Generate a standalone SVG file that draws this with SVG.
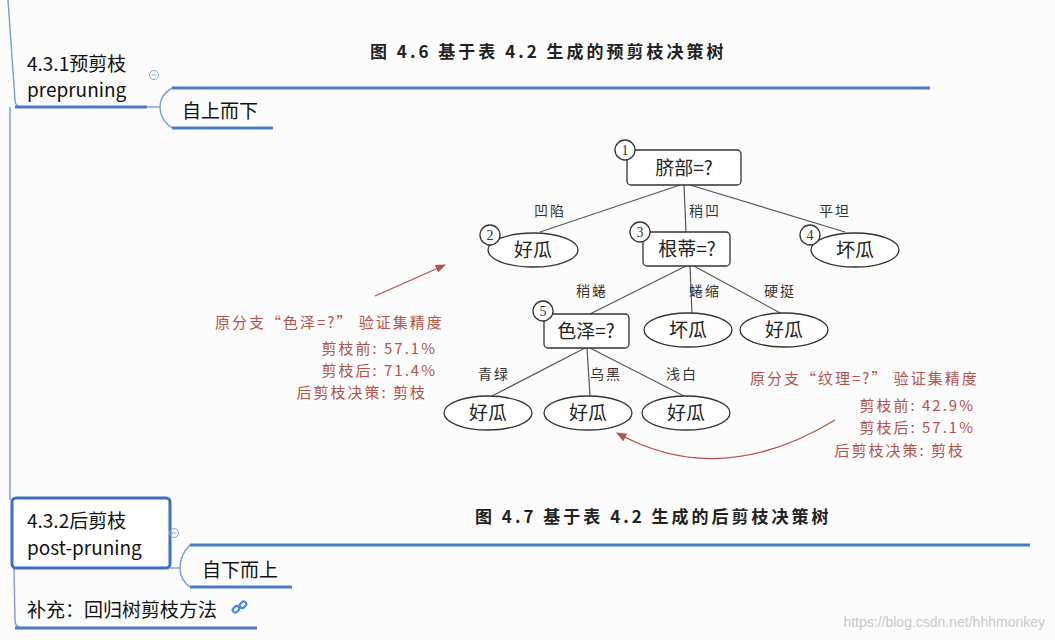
<svg xmlns="http://www.w3.org/2000/svg" width="1055" height="640" viewBox="0 0 1055 640">
<defs>
<style>
.mm{font-family:"Noto Sans CJK SC","Liberation Sans",sans-serif;font-size:19px;fill:#111}
.bl{stroke:#4a7cc4;stroke-width:3;fill:none}
.tl{stroke:#7ea0d8;stroke-width:1.5;fill:none}
.t{font-family:"Noto Sans CJK SC",serif;font-size:19px;fill:#222;text-anchor:middle}
.lb{font-family:"Noto Sans CJK SC",serif;font-size:14px;fill:#333;text-anchor:middle;letter-spacing:2px}
.nm{font-family:"Liberation Serif",serif;font-size:14px;fill:#333;text-anchor:middle}
.nd{fill:#fff;stroke:#333;stroke-width:1.3}
.e{stroke:#555;stroke-width:1.2;fill:none}
.r{font-family:"Noto Sans CJK SC",serif;font-size:15px;fill:#b5524a;letter-spacing:2px}
.ti{font-family:"Noto Sans CJK SC",serif;font-size:17px;font-weight:bold;fill:#222;letter-spacing:3px}
</style>
<marker id="ar" viewBox="0 0 10 10" refX="9" refY="5" markerWidth="8" markerHeight="8" orient="auto"><path d="M0,1 L10,5 L0,9 z" fill="#b5524a"/></marker>
</defs>
<rect width="1055" height="640" fill="#fcfcfc"/>
<g id="mindmap">
<path class="tl" d="M8,0 L15,100 Q15,107 22,107"/>
<path class="tl" d="M10,107 L10,500"/>
<path class="tl" d="M14,568 L15,620 Q15,628 22,628"/>
<path class="bl" d="M15,107 H147"/>
<path class="tl" d="M147,107 H160"/>
<path class="bl" d="M172,88 H930 M172,128 H273"/>
<path class="tl" d="M172,88 Q160,95 160,107 Q160,120 172,128"/>
<circle cx="154" cy="75" r="4.5" fill="none" stroke="#8aa6d8"/><path d="M151.5,75 H156.5" stroke="#8aa6d8"/>
<text class="mm" x="27" y="71">4.3.1预剪枝</text>
<text class="mm" x="27" y="97">prepruning</text>
<text class="mm" x="182" y="118">自上而下</text>
<rect x="12" y="498" width="158" height="70" rx="4" fill="#fff" stroke="#3e6fc0" stroke-width="3"/>
<text class="mm" x="27" y="528">4.3.2后剪枝</text>
<text class="mm" x="27" y="555">post-pruning</text>
<circle cx="174" cy="533" r="4.5" fill="none" stroke="#8aa6d8"/><path d="M171.5,533 H176.5" stroke="#8aa6d8"/>
<path class="tl" d="M170,568 H180 Q180,555 190,545 M180,568 Q180,580 190,587"/>
<path class="bl" d="M190,545 H1030 M190,587 H292"/>
<text class="mm" x="202" y="577">自下而上</text>
<text class="mm" x="27" y="617">补充：回归树剪枝方法</text>
<path class="bl" d="M15,628 H257"/>
<g stroke="#4a8ae0" stroke-width="2.2" fill="none"><rect x="233" y="607" width="7" height="5" rx="2.5" transform="rotate(-45 236 610)"/><rect x="239" y="602" width="7" height="5" rx="2.5" transform="rotate(-45 243 604)"/></g>
</g>
<text class="ti" x="370" y="58">图 4.6   基于表 4.2 生成的预剪枝决策树</text>
<text class="ti" x="475" y="523">图 4.7   基于表 4.2 生成的后剪枝决策树</text>
<g id="connectors">
<path class="e" d="M680,185 L540,232 M684,185 L686,232 M690,185 L845,232"/>
<path class="e" d="M686,266 L590,314 M690,266 L692,314 M694,266 L782,314"/>
<path class="e" d="M585,348 L492,396 M587,348 L590,396 M590,348 L684,396"/>
<path d="M375,296 L445,265" stroke="#b5524a" stroke-width="1.3" fill="none" marker-end="url(#ar)"/>
<path d="M835,420 Q720,490 617,433" stroke="#b5524a" stroke-width="1.3" fill="none" marker-end="url(#ar)"/>
</g>
<g id="labels">
<text class="lb" x="550" y="216">凹陷</text><text class="lb" x="705" y="216">稍凹</text><text class="lb" x="835" y="216">平坦</text>
<text class="lb" x="592" y="296">稍蜷</text><text class="lb" x="705" y="296">蜷缩</text><text class="lb" x="780" y="296">硬挺</text>
<text class="lb" x="494" y="379">青绿</text><text class="lb" x="606" y="379">乌黑</text><text class="lb" x="682" y="379">浅白</text>
</g>
<g id="n1"><rect class="nd" x="627" y="150" width="114" height="35" rx="4"/><text class="t" x="684" y="175">脐部=?</text><circle class="nd" cx="625" cy="150" r="10"/><text class="nm" x="625" y="155">1</text></g>
<g id="n2"><ellipse class="nd" cx="533" cy="250" rx="45" ry="17"/><text class="t" x="533" y="257">好瓜</text><circle class="nd" cx="490" cy="235" r="10"/><text class="nm" x="490" y="240">2</text></g>
<g id="n3"><rect class="nd" x="643" y="232" width="87" height="34" rx="4"/><text class="t" x="687" y="256">根蒂=?</text><circle class="nd" cx="640" cy="232" r="10"/><text class="nm" x="640" y="237">3</text></g>
<g id="n4"><ellipse class="nd" cx="855" cy="250" rx="44" ry="17"/><text class="t" x="855" y="257">坏瓜</text><circle class="nd" cx="810" cy="235" r="10"/><text class="nm" x="810" y="240">4</text></g>
<g id="n5"><rect class="nd" x="544" y="314" width="85" height="34" rx="4"/><text class="t" x="586" y="338">色泽=?</text><circle class="nd" cx="543" cy="311" r="10"/><text class="nm" x="543" y="316">5</text></g>
<g id="n6"><ellipse class="nd" cx="688" cy="330" rx="44" ry="17"/><text class="t" x="688" y="337">坏瓜</text></g>
<g id="n7"><ellipse class="nd" cx="784" cy="330" rx="44" ry="17"/><text class="t" x="784" y="337">好瓜</text></g>
<g id="n8"><ellipse class="nd" cx="488" cy="413" rx="44" ry="17"/><text class="t" x="488" y="420">好瓜</text></g>
<g id="n9"><ellipse class="nd" cx="588" cy="413" rx="44" ry="17"/><text class="t" x="588" y="420">好瓜</text></g>
<g id="n10"><ellipse class="nd" cx="686" cy="413" rx="44" ry="17"/><text class="t" x="686" y="420">好瓜</text></g>
<g id="notes">
<text class="r" x="215" y="328">原分支“色泽=?”  验证集精度</text>
<text class="r" x="437" y="354" text-anchor="end">剪枝前: 57.1%</text>
<text class="r" x="437" y="376" text-anchor="end">剪枝后: 71.4%</text>
<text class="r" x="427" y="398" text-anchor="end">后剪枝决策: 剪枝</text>
<text class="r" x="750" y="384">原分支“纹理=?”  验证集精度</text>
<text class="r" x="975" y="411" text-anchor="end">剪枝前: 42.9%</text>
<text class="r" x="975" y="433" text-anchor="end">剪枝后: 57.1%</text>
<text class="r" x="965" y="456" text-anchor="end">后剪枝决策: 剪枝</text>
</g>
<text x="1045" y="627" text-anchor="end" font-family="Liberation Sans,sans-serif" font-size="14" fill="#c8c8c8">https://blog.csdn.net/hhhmonkey</text>
</svg>
